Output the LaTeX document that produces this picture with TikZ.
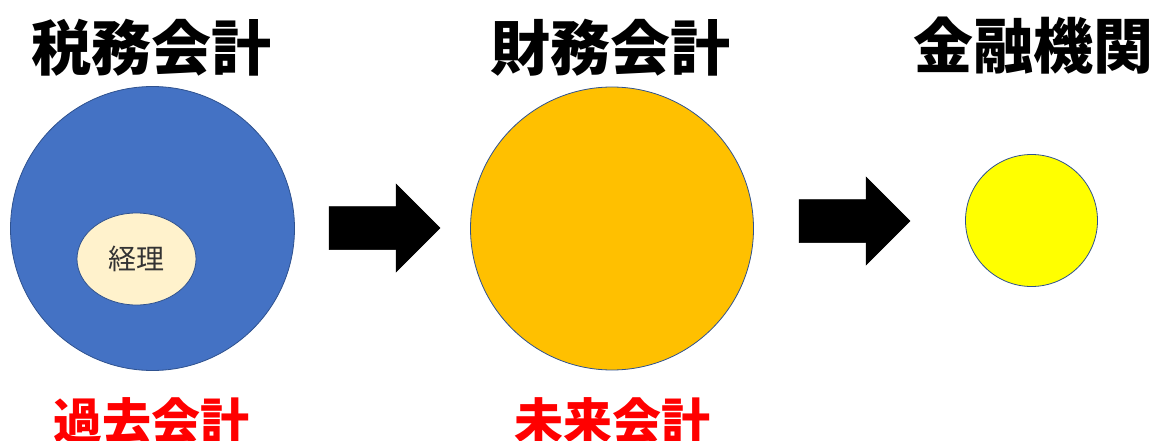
\documentclass[tikz,border=0pt]{standalone}
\usepackage{fontspec}
\usetikzlibrary{shapes.geometric}
\setmainfont{Noto Sans CJK JP}
\newfontfamily\cjk{Noto Sans CJK JP}
\definecolor{tblue}{HTML}{4472C4}
\definecolor{torange}{HTML}{FFC000}
\definecolor{tyellow}{HTML}{FFFF00}
\definecolor{tcream}{HTML}{FFF2CC}
\definecolor{tedge}{HTML}{2F528F}
\definecolor{tred}{HTML}{FF0000}
\begin{document}
\begin{tikzpicture}[x=1pt,y=-1pt,
  title/.style={font=\cjk\bfseries\fontsize{60}{60}\selectfont, text=black, inner sep=0pt},
  redlabel/.style={font=\cjk\bfseries\fontsize{49}{49}\selectfont, text=tred, inner sep=0pt},
  ball/.style={circle, draw=tedge, line width=0.8pt, inner sep=0pt},
  blockarrow/.style={fill=black, draw=black, line width=0.5pt, line join=miter}]
\useasboundingbox (0,0) rectangle (1154,441);
\path[clip] (0,0) rectangle (1154,441);

% titles
\node[title] (t1) at (151,48) {税務会計};
\node[title] (t2) at (610,48) {財務会計};
\node[title] (t3) at (1033,46) {金融機関};

% circles
\node[ball, fill=tblue, minimum size=284pt] (c1) at (152.5,228.5) {};
\node[ellipse, draw=tedge, line width=0.8pt, fill=tcream, minimum width=119pt, minimum height=92pt, inner sep=0pt,
      font=\cjk\fontsize{28}{28}\selectfont, text=black!80] (e1) at (136.5,259) {経理};
\node[ball, fill=torange, minimum size=283pt] (c2) at (612,228.5) {};
\node[ball, fill=tyellow, minimum size=132pt] (c3) at (1031.5,220.5) {};

% block arrows
\coordinate (a1) at (329,228);
\coordinate (a2) at (799,221);
\draw[blockarrow] (a1) ++(0,-21.5) -- ++(67,0) -- ++(0,-22.5) -- ++(44,44) -- ++(-44,44) -- ++(0,-22.5) -- ++(-67,0) -- cycle;
\draw[blockarrow] (a2) ++(0,-21.5) -- ++(67,0) -- ++(0,-22.5) -- ++(44,44) -- ++(-44,44) -- ++(0,-22.5) -- ++(-67,0) -- cycle;

% red labels
\node[redlabel] (r1) at (151,421) {過去会計};
\node[redlabel] (r2) at (612,421) {未来会計};
\end{tikzpicture}
\end{document}
